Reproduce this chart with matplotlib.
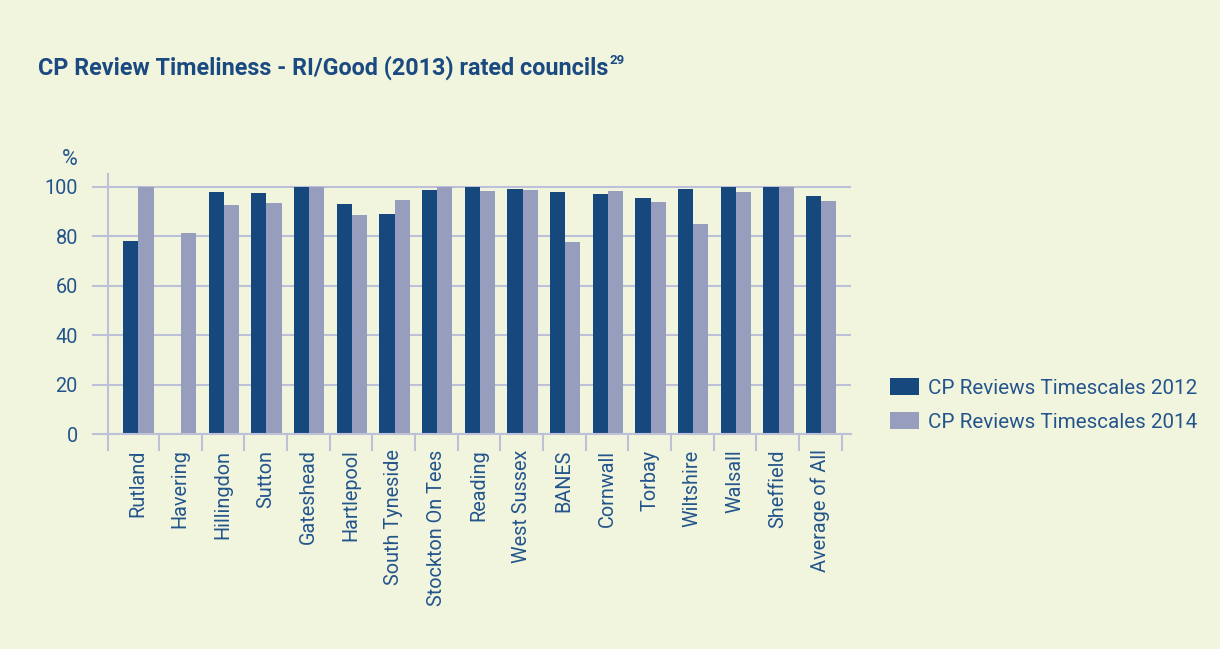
import matplotlib
matplotlib.use("Agg")
import matplotlib.pyplot as plt
import numpy as np

categories = ["Rutland", "Havering", "Hillingdon", "Sutton", "Gateshead", "Hartlepool",
              "South Tyneside", "Stockton On Tees", "Reading", "West Sussex", "BANES",
              "Cornwall", "Torbay", "Wiltshire", "Walsall", "Sheffield", "Average of All"]
values_2012 = [78, 0, 98, 97.5, 100, 93, 89, 98.7, 100, 99, 97.7, 97, 95.4, 99, 100, 100, 96.2]
values_2014 = [100, 81.3, 92.6, 93.4, 100, 88.6, 94.6, 100, 98.3, 98.5, 77.5, 98.3, 93.8, 84.9, 97.7, 100, 94.2]
series_labels = ["CP Reviews Timescales 2012", "CP Reviews Timescales 2014"]
y_ticks = [0, 20, 40, 60, 80, 100]

BG = "#f2f5de"
DARK = "#16487e"
LIGHT = "#979ebd"
GRID = "#bcc0d8"
TEXT = "#23558c"
TITLE = "#1b4a80"

plt.rcParams['font.family'] = ['Roboto', 'DejaVu Sans']

fig = plt.figure(figsize=(12.2, 6.49), dpi=100, facecolor=BG)
ax = fig.add_axes([0.0883, 0.3308, 0.6090, 0.4006])
ax.set_facecolor(BG)

x = np.arange(len(categories))
w = 0.355
ax.bar(x - w / 2 + 0.02, values_2012, width=w, color=DARK, label=series_labels[0], zorder=3)
ax.bar(x + w / 2 + 0.02, values_2014, width=w, color=LIGHT, label=series_labels[1], zorder=3)

ax.set_xlim(-0.7, 16.71)
ax.set_ylim(0, 105)

lw = 1.5
for s in ["top", "right"]:
    ax.spines[s].set_visible(False)
for s in ["left", "bottom"]:
    ax.spines[s].set_color(GRID)
    ax.spines[s].set_linewidth(lw)
    ax.spines[s].set_zorder(4)

ax.set_yticks(y_ticks)
ax.set_yticklabels([str(v) for v in y_ticks])
ax.tick_params(axis="y", length=11.5, width=lw, color=GRID, labelcolor=TEXT,
               labelsize=14.3, pad=10)
ax.yaxis.grid(True, color=GRID, linewidth=lw, zorder=1)
ax.set_axisbelow(True)

ax.set_xticks(x)
ax.set_xticklabels(categories, rotation=90, fontsize=14.3, color=TEXT)
ax.tick_params(axis="x", which="major", length=0, pad=11)
ax.set_xticks(list(np.arange(-0.5, 16.6, 1.0)[1:]) + [-0.7], minor=True)
ax.tick_params(axis="x", which="minor", length=12, width=lw, color=GRID)

ax.text(-0.051, 1.057, "%", transform=ax.transAxes, fontsize=15.5, color=TEXT,
        ha="center", va="center")

leg = fig.legend(loc="upper left", bbox_to_anchor=(890 / 1220, 1 - 378 / 649),
                 frameon=False, fontsize=14.9, labelcolor=TEXT, borderpad=0,
                 borderaxespad=0, handlelength=1.4, handleheight=0.9,
                 handletextpad=0.45, labelspacing=0.68)

t = fig.text(38 / 1220, 1 - 68 / 649, "CP Review Timeliness - RI/Good (2013) rated councils",
             fontsize=16.8, fontweight="bold", color=TITLE, ha="left", va="center")
fig.canvas.draw()
bb = t.get_window_extent()
fig.text(bb.x1 / 1220 + 0.001, 1 - 61 / 649, "29", fontsize=9.5, fontweight="bold",
         color=TITLE, ha="left", va="center")

fig.savefig("out.png", dpi=100, facecolor=BG)
